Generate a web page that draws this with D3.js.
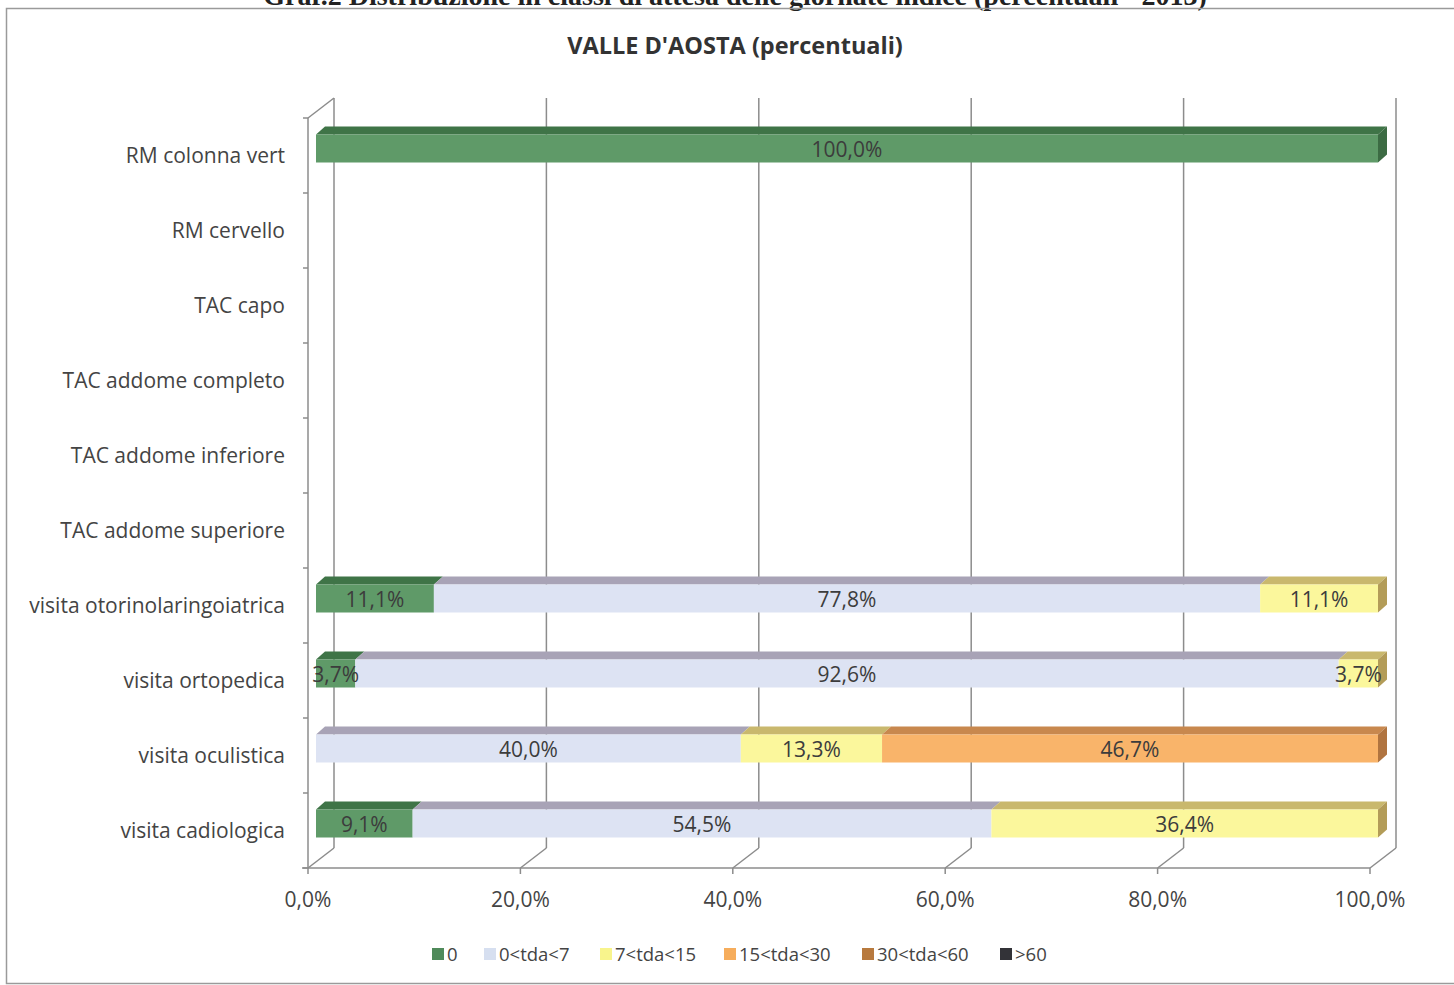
<!DOCTYPE html>
<html>
<head>
<meta charset="utf-8">
<script src="https://cdn.jsdelivr.net/npm/d3@7"></script>
<style>
  body { margin: 0; background: #fff; }
  text { font-family: "Open Sans", Lato, sans-serif; }
</style>
</head>
<body>
<div id="chart"></div>
<script>
// categories top to bottom
const categories = ["RM colonna vert", "RM cervello", "TAC capo", "TAC addome completo",
  "TAC addome inferiore", "TAC addome superiore", "visita otorinolaringoiatrica",
  "visita ortopedica", "visita oculistica", "visita cadiologica"];

const seriesNames = ["0", "0<tda<7", "7<tda<15", "15<tda<30", "30<tda<60", ">60"];

const s0      = [100, 0, 0, 0, 0, 0, 11.1, 3.7, 0, 9.1];
const s0to7   = [0, 0, 0, 0, 0, 0, 77.8, 92.6, 40.0, 54.5];
const s7to15  = [0, 0, 0, 0, 0, 0, 11.1, 3.7, 13.3, 36.4];
const s15to30 = [0, 0, 0, 0, 0, 0, 0, 0, 46.7, 0];
const s30to60 = [0, 0, 0, 0, 0, 0, 0, 0, 0, 0];
const s60     = [0, 0, 0, 0, 0, 0, 0, 0, 0, 0];

const xTicks = [0, 20, 40, 60, 80, 100];

// front, top, side colours per series
const colors = [
  { front: "#5f9a68", top: "#3f7447", side: "#3c6b43", legend: "#4f8a5a" },
  { front: "#dde3f3", top: "#a8a3b6", side: "#9c97ab", legend: "#d6dff0" },
  { front: "#fbf79c", top: "#c9b86d", side: "#b39c58", legend: "#f8f48c" },
  { front: "#f9b46a", top: "#c8884e", side: "#b07440", legend: "#f6ad5c" },
  { front: "#c0864a", top: "#8f5e30", side: "#7d522a", legend: "#b87a3e" },
  { front: "#3a3a40", top: "#222226", side: "#1c1c20", legend: "#333338" }
];

const W = 1454, H = 985;
const svg = d3.select("#chart").append("svg").attr("width", W).attr("height", H);

// frame + page title (cut off at top, as in the scan)
svg.append("text").attr("x", 735).attr("y", 5).attr("text-anchor", "middle")
  .style("font-family", "'Liberation Serif', serif").style("font-weight", "bold")
  .style("font-size", "28px").attr("fill", "#222")
  .text("Graf.2 Distribuzione in classi di attesa delle giornate indice (percentuali - 2013)");
svg.append("rect").attr("x", 6.5).attr("y", 8.5).attr("width", 1460).attr("height", 975)
  .attr("fill", "none").attr("stroke", "#9a9a9a").attr("stroke-width", 1.5);

svg.append("text").attr("x", 735).attr("y", 54).attr("text-anchor", "middle")
  .style("font-weight", "bold").style("font-size", "23.5px").attr("fill", "#333")
  .text("VALLE D'AOSTA (percentuali)");

// 3d geometry
const top0 = 118, bottom0 = 868;
const depth = { dx: 26, dy: -20 };
const x = d3.scaleLinear().domain([0, 100]).range([308, 1370]);
const y = d3.scaleBand().domain(categories).range([top0, bottom0]);

const grid = "#8c8c8c";
const g = svg.append("g");

// back wall gridlines + floor diagonals
xTicks.forEach(t => {
  const fx = x(t), bx = x(t) + depth.dx;
  g.append("line").attr("x1", bx).attr("x2", bx)
    .attr("y1", top0 + depth.dy).attr("y2", bottom0 + depth.dy)
    .attr("stroke", grid).attr("stroke-width", 1.5);
  g.append("line").attr("x1", fx).attr("x2", bx)
    .attr("y1", bottom0).attr("y2", bottom0 + depth.dy)
    .attr("stroke", grid).attr("stroke-width", 1.5);
});

// left wall
g.append("line").attr("x1", x(0)).attr("x2", x(0)).attr("y1", top0).attr("y2", bottom0)
  .attr("stroke", grid).attr("stroke-width", 1.5);
g.append("line").attr("x1", x(0)).attr("x2", x(0) + depth.dx)
  .attr("y1", top0).attr("y2", top0 + depth.dy)
  .attr("stroke", grid).attr("stroke-width", 1.5);
d3.range(categories.length + 1).forEach(i => {
  const yy = top0 + i * y.step();
  g.append("line").attr("x1", x(0) - 5).attr("x2", x(0)).attr("y1", yy).attr("y2", yy)
    .attr("stroke", grid).attr("stroke-width", 1.5);
});

// front x axis
g.append("line").attr("x1", x(0) - 6).attr("x2", x(100)).attr("y1", bottom0).attr("y2", bottom0)
  .attr("stroke", grid).attr("stroke-width", 1.5);
xTicks.forEach(t => {
  g.append("line").attr("x1", x(t)).attr("x2", x(t)).attr("y1", bottom0).attr("y2", bottom0 + 6)
    .attr("stroke", grid).attr("stroke-width", 1.5);
  g.append("text").attr("x", x(t)).attr("y", bottom0 + 39).attr("text-anchor", "middle")
    .style("font-size", "21px").attr("fill", "#444")
    .text(t.toFixed(1).replace(".", ",") + "%");
});

// category labels
categories.forEach(c => {
  g.append("text").attr("x", 285).attr("y", y(c) + y.bandwidth() / 2 + 7.5)
    .attr("text-anchor", "end").style("font-size", "21px").attr("fill", "#444")
    .text(c);
});

// stacked data
const rows = categories.map((c, i) => ({
  cat: c, "0": s0[i], "0<tda<7": s0to7[i], "7<tda<15": s7to15[i],
  "15<tda<30": s15to30[i], "30<tda<60": s30to60[i], ">60": s60[i]
}));
const stacked = d3.stack().keys(seriesNames)(rows);

const barOff = { dx: 8, dy: -7 };   // bar front offset into the depth
const barD = { dx: 9, dy: -8 };     // bar thickness
const barH = 28;

const bars = svg.append("g");
categories.forEach((c, ci) => {
  const yc = y(c) + y.bandwidth() / 2 + barOff.dy;
  const y1 = yc - barH / 2, y2 = yc + barH / 2;
  const segs = stacked.map((s, si) => ({ si, a: s[ci][0], b: s[ci][1] })).filter(d => d.b - d.a > 0);
  segs.forEach((d, k) => {
    const xa = x(d.a) + barOff.dx, xb = x(d.b) + barOff.dx;
    const col = colors[d.si];
    // top face
    bars.append("path")
      .attr("d", `M${xa},${y1}L${xa + barD.dx},${y1 + barD.dy}L${xb + barD.dx},${y1 + barD.dy}L${xb},${y1}Z`)
      .attr("fill", col.top);
    // front face
    bars.append("rect").attr("x", xa).attr("y", y1).attr("width", xb - xa).attr("height", barH)
      .attr("fill", col.front);
    if (k === segs.length - 1) {
      bars.append("path")
        .attr("d", `M${xb},${y1}L${xb + barD.dx},${y1 + barD.dy}L${xb + barD.dx},${y2 + barD.dy}L${xb},${y2}Z`)
        .attr("fill", col.side);
    }
  });
  // value labels
  segs.forEach(d => {
    const xm = (x(d.a) + x(d.b)) / 2 + barOff.dx;
    bars.append("text").attr("x", xm).attr("y", yc + 8).attr("text-anchor", "middle")
      .style("font-size", "21px").attr("fill", "#3c3c3c")
      .text((d.b - d.a).toFixed(1).replace(".", ",") + "%");
  });
});

// legend
const legendX = [432, 484, 600, 724, 862, 1000];
const leg = svg.append("g");
seriesNames.forEach((n, i) => {
  leg.append("rect").attr("x", legendX[i]).attr("y", 948).attr("width", 12).attr("height", 12)
    .attr("fill", colors[i].legend);
  leg.append("text").attr("x", legendX[i] + 15).attr("y", 961)
    .style("font-size", "18.5px").attr("fill", "#444").text(n);
});
</script>
</body>
</html>
